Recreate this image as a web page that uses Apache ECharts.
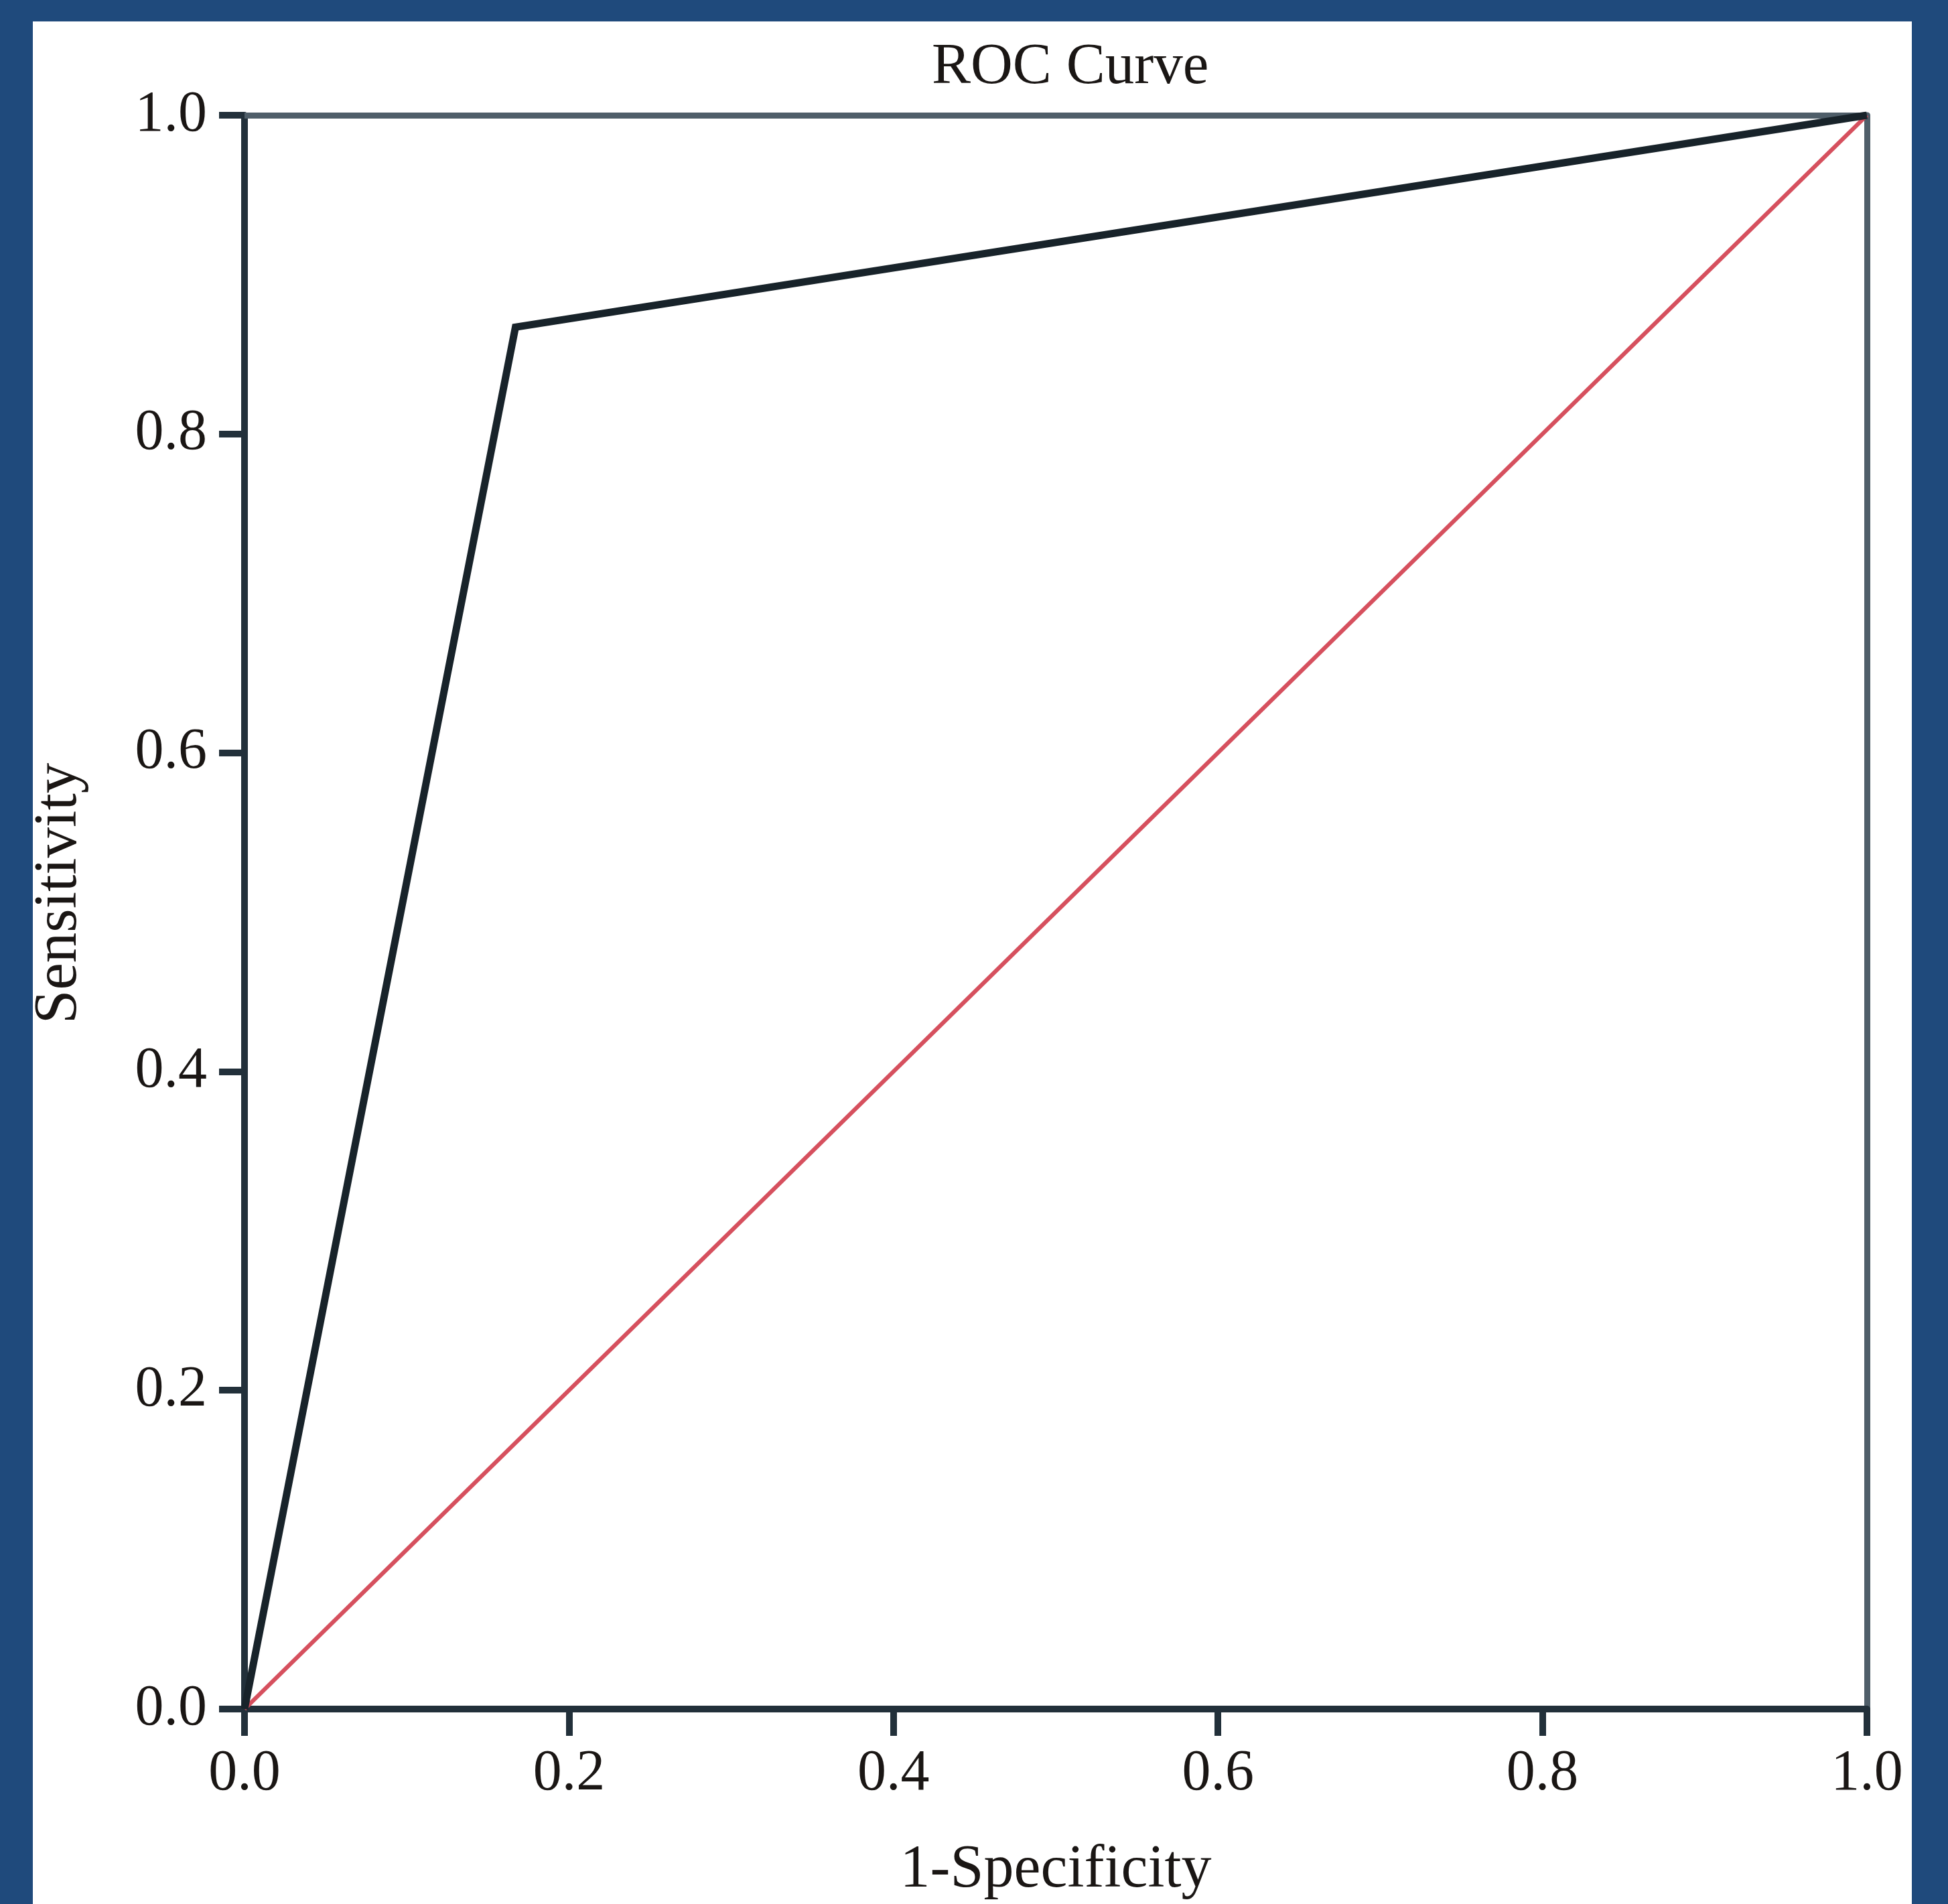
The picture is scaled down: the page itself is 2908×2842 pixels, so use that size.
<!DOCTYPE html>
<html>
<head>
<meta charset="utf-8">
<title>ROC Curve</title>
<script src="https://cdn.jsdelivr.net/npm/echarts@6/dist/echarts.min.js"></script>
<style>
html, body { margin: 0; padding: 0; background: #1f4a7c; }
#main { width: 2908px; height: 2842px; }
</style>
</head>
<body>
<div id="main"></div>
<script>
// ROC curve points: 1-specificity / sensitivity
var rocX = [0, 0.167, 1]
var rocY = [0, 0.867, 1]
// reference line (chance)
var refX = [0, 1]
var refY = [0, 1]
// tick labels for both axes
var tickLabels = ['0.0', '0.2', '0.4', '0.6', '0.8', '1.0']

var serif = 'Liberation Serif'
var ink = '#1a1614'
var darkAxis = '#22303a'
var lightAxis = '#4f5e69'

function pairs(xs, ys) {
  var out = []
  for (var i = 0; i < xs.length; i++) out.push([xs[i], ys[i]])
  return out
}

function tickFmt(v) {
  var i = Math.round(v / 0.2)
  return tickLabels[i] !== undefined ? tickLabels[i] : ''
}

var chart = echarts.init(document.getElementById('main'), null, { renderer: 'canvas' })

var option = {
  backgroundColor: '#1f4a7c',
  animation: false,
  graphic: [{
    type: 'rect',
    z: -100,
    silent: true,
    shape: { x: 49, y: 32, width: 2805, height: 2810 },
    style: { fill: '#ffffff' }
  }],
  title: {
    text: 'ROC Curve',
    left: 1386,
    top: 53,
    textStyle: { fontFamily: serif, fontSize: 87, fontWeight: 'normal', color: ink }
  },
  grid: { left: 365, right: 121, top: 172, bottom: 280, containLabel: false },
  xAxis: [{
    type: 'value',
    position: 'bottom',
    min: 0, max: 1, interval: 0.2,
    name: '1-Specificity',
    nameLocation: 'middle',
    nameGap: 196,
    nameTextStyle: { fontFamily: serif, fontSize: 90, color: ink },
    axisLine: { show: true, onZero: false, lineStyle: { color: darkAxis, width: 10 } },
    axisTick: { show: true, length: 40, lineStyle: { color: darkAxis, width: 10 } },
    axisLabel: { margin: 54, formatter: tickFmt, fontFamily: serif, fontSize: 86, color: ink },
    splitLine: { show: false }
  }, {
    type: 'value',
    position: 'top',
    min: 0, max: 1,
    axisLine: { show: true, onZero: false, lineStyle: { color: lightAxis, width: 9 } },
    axisTick: { show: false },
    axisLabel: { show: false },
    splitLine: { show: false }
  }],
  yAxis: [{
    type: 'value',
    position: 'left',
    min: 0, max: 1, interval: 0.2,
    name: 'Sensitivity',
    nameLocation: 'middle',
    nameGap: 230,
    nameTextStyle: { fontFamily: serif, fontSize: 91, color: ink, padding: [0, 0, 0, 56] },
    axisLine: { show: true, onZero: false, lineStyle: { color: darkAxis, width: 10 } },
    axisTick: { show: true, length: 38, lineStyle: { color: darkAxis, width: 10 } },
    axisLabel: { margin: 56, formatter: tickFmt, fontFamily: serif, fontSize: 86, color: ink },
    splitLine: { show: false }
  }, {
    type: 'value',
    position: 'right',
    min: 0, max: 1,
    axisLine: { show: true, onZero: false, lineStyle: { color: lightAxis, width: 9 } },
    axisTick: { show: false },
    axisLabel: { show: false },
    splitLine: { show: false }
  }],
  series: [{
    name: 'Reference',
    type: 'line',
    xAxisIndex: 0, yAxisIndex: 0,
    data: pairs(refX, refY),
    symbol: 'none',
    z: 3,
    lineStyle: { color: '#d6505e', width: 6 }
  }, {
    name: 'ROC',
    type: 'line',
    xAxisIndex: 0, yAxisIndex: 0,
    data: pairs(rocX, rocY),
    symbol: 'none',
    z: 4,
    lineStyle: { color: '#18232a', width: 11, join: 'miter' }
  }]
}

chart.setOption(option)
</script>
</body>
</html>
